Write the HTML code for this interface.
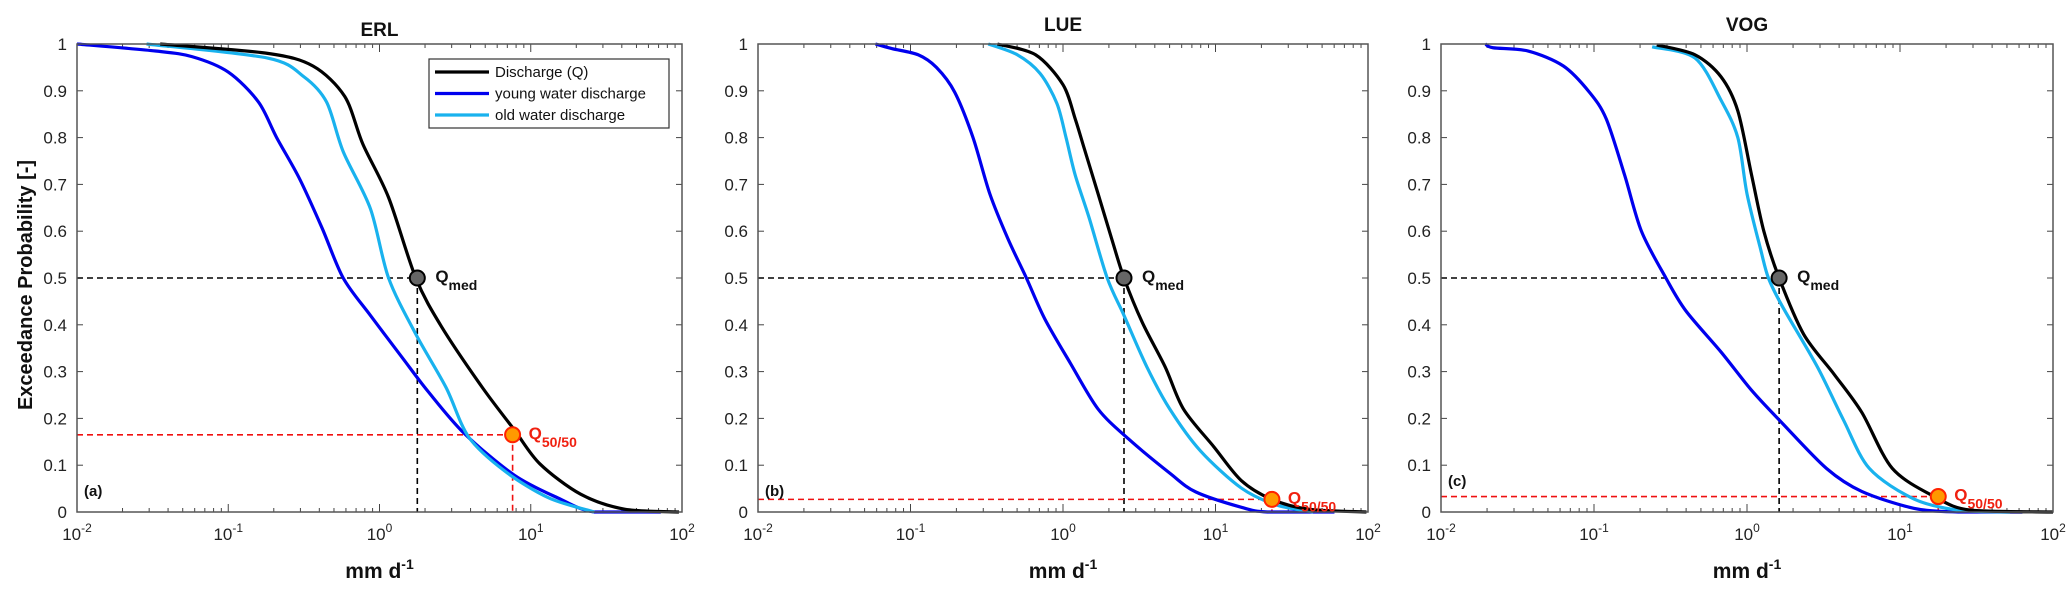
<!DOCTYPE html>
<html><head><meta charset="utf-8"><style>
body{margin:0;background:#fff;}
svg{display:block;font-family:"Liberation Sans",Arial,sans-serif;}
</style></head><body>
<svg id="fig" width="2067" height="597" viewBox="0 0 2067 597"></svg>
<script>
// data: [log10(x), exceedance probability]
const erlDischarge=[[-1.45,1],[-0.74,0.98],[-0.44,0.953],[-0.23,0.888],[-0.11,0.786],[0.06,0.672],[0.24,0.5],[0.41,0.396],[0.68,0.266],[0.89,0.176],[1.06,0.103],[1.33,0.038],[1.62,0.006],[1.98,0]];
const erlOld=[[-1.54,1],[-0.74,0.97],[-0.5,0.93],[-0.35,0.876],[-0.24,0.77],[-0.06,0.648],[0.06,0.5],[0.24,0.38],[0.44,0.266],[0.59,0.16],[0.83,0.087],[1.12,0.03],[1.42,0]];
const erlYoung=[[-2,1],[-1.48,0.985],[-1.24,0.973],[-1.0,0.94],[-0.8,0.876],[-0.68,0.8],[-0.53,0.713],[-0.38,0.607],[-0.24,0.5],[-0.06,0.42],[0.15,0.33],[0.32,0.258],[0.56,0.168],[0.89,0.079],[1.18,0.03],[1.42,0],[1.86,0]];
const lueDischarge=[[-0.43,1],[-0.18,0.977],[0,0.913],[0.08,0.84],[0.14,0.776],[0.23,0.68],[0.32,0.583],[0.4,0.5],[0.52,0.405],[0.67,0.31],[0.79,0.22],[0.99,0.139],[1.17,0.067],[1.37,0.027],[1.61,0.006],[1.99,0]];
const lueOld=[[-0.49,1],[-0.3,0.977],[-0.15,0.937],[-0.04,0.873],[0.02,0.8],[0.08,0.72],[0.17,0.63],[0.29,0.5],[0.4,0.42],[0.55,0.31],[0.7,0.22],[0.9,0.131],[1.17,0.051],[1.4,0.015],[1.64,0]];
const lueYoung=[[-1.23,1],[-1.12,0.99],[-0.95,0.977],[-0.83,0.95],[-0.71,0.897],[-0.59,0.8],[-0.48,0.68],[-0.36,0.583],[-0.24,0.5],[-0.12,0.413],[0.05,0.317],[0.23,0.22],[0.43,0.156],[0.7,0.083],[0.87,0.043],[1.17,0.01],[1.34,0],[1.78,0]];
const vogDischarge=[[-0.59,0.998],[-0.34,0.977],[-0.17,0.93],[-0.06,0.857],[0.03,0.72],[0.11,0.6],[0.21,0.5],[0.37,0.38],[0.57,0.294],[0.75,0.213],[0.95,0.093],[1.23,0.032],[1.46,0.004],[2,0]];
const vogOld=[[-0.62,0.994],[-0.34,0.97],[-0.17,0.88],[-0.06,0.8],[0,0.68],[0.09,0.56],[0.14,0.5],[0.23,0.44],[0.46,0.31],[0.63,0.197],[0.8,0.093],[1.09,0.028],[1.38,0.004],[1.72,0]];
const vogYoung=[[-1.71,1],[-1.66,0.992],[-1.43,0.985],[-1.2,0.953],[-1.03,0.897],[-0.92,0.84],[-0.8,0.72],[-0.69,0.6],[-0.53,0.5],[-0.4,0.43],[-0.17,0.342],[0.03,0.26],[0.23,0.19],[0.52,0.093],[0.75,0.044],[1.09,0.008],[1.38,0],[1.8,0]];
const panelTitles=["ERL","LUE","VOG"];
const panelLetters=["(a)","(b)","(c)"];
const qmedX=[0.25,0.4,0.21];
const q5050X=[0.88,1.37,1.25];
const q5050P=[0.165,0.027,0.033];
const yTicks=[0,0.1,0.2,0.3,0.4,0.5,0.6,0.7,0.8,0.9,1];
const yTickLabels=["0","0.1","0.2","0.3","0.4","0.5","0.6","0.7","0.8","0.9","1"];
const xDecades=[-2,-1,0,1,2];

const svg=document.getElementById('fig');
const NS='http://www.w3.org/2000/svg';
function mk(tag,attrs,parent){const e=document.createElementNS(NS,tag);for(const k in attrs)e.setAttribute(k,attrs[k]);(parent||svg).appendChild(e);return e;}
function smooth(pts){
  let d='M'+pts[0][0]+','+pts[0][1];
  for(let i=0;i<pts.length-1;i++){
    const p0=pts[Math.max(0,i-1)],p1=pts[i],p2=pts[i+1],p3=pts[Math.min(pts.length-1,i+2)];
    const t=0.15;
    let c1y=p1[1]+(p2[1]-p0[1])*t, c2y=p2[1]-(p3[1]-p1[1])*t;
    const lo=Math.min(p1[1],p2[1]),hi=Math.max(p1[1],p2[1]);
    c1y=Math.min(hi,Math.max(lo,c1y)); c2y=Math.min(hi,Math.max(lo,c2y));
    const c1x=p1[0]+(p2[0]-p0[0])*t, c2x=p2[0]-(p3[0]-p1[0])*t;
    d+=' C'+c1x+','+c1y+' '+c2x+','+c2y+' '+p2[0]+','+p2[1];
  }
  return d;
}
const panels=[{L:77,R:682,data:[erlYoung,erlOld,erlDischarge],ty:30},{L:758,R:1368,data:[lueYoung,lueOld,lueDischarge],ty:25},{L:1441,R:2053,data:[vogYoung,vogOld,vogDischarge],ty:25}];
const T=44,B=512;
const colors=["#0000ee","#19b2ee","#000000"];
const names=["young-water-line","old-water-line","discharge-line"];
panels.forEach((p,i)=>{
  const g=mk('g',{});
  
  
  const sx=v=>p.L+(v+2)/4*(p.R-p.L);
  const sy=v=>B-v*(B-T);
  yTicks.forEach((t,k)=>{
    mk('line',{x1:p.L,x2:p.L+6,y1:sy(t),y2:sy(t),stroke:'#444','stroke-width':1},g);
    mk('line',{x1:p.R-6,x2:p.R,y1:sy(t),y2:sy(t),stroke:'#444','stroke-width':1},g);
    const tl=mk('text',{x:p.L-10,y:sy(t)+6,'text-anchor':'end','font-size':17,fill:'#222'},g);
    tl.textContent=yTickLabels[k];
    
    
  });
  xDecades.forEach(d=>{
    const x=sx(d);
    mk('line',{x1:x,x2:x,y1:B,y2:B-8,stroke:'#444'},g);
    mk('line',{x1:x,x2:x,y1:T,y2:T+8,stroke:'#444'},g);
    if(d<2){for(let m=2;m<10;m++){const xm=sx(d+Math.log10(m));
      mk('line',{x1:xm,x2:xm,y1:B,y2:B-4,stroke:'#444'},g);
      mk('line',{x1:xm,x2:xm,y1:T,y2:T+4,stroke:'#444'},g);}}
    const tx=mk('text',{x:x,y:540,'text-anchor':'middle','font-size':17,fill:'#222'},g);
    tx.innerHTML='10<tspan dy="-8" font-size="12">'+d+'</tspan>';
    
    
  });
  const qx=sx(qmedX[i]), rx=sx(q5050X[i]), ry=sy(q5050P[i]);
  mk('line',{x1:p.L,x2:qx,y1:sy(0.5),y2:sy(0.5),stroke:'#000','stroke-width':1.6,'stroke-dasharray':'6,4'},g);
  mk('line',{x1:qx,x2:qx,y1:sy(0.5),y2:B,stroke:'#000','stroke-width':1.6,'stroke-dasharray':'6,4'},g);
  mk('line',{x1:p.L,x2:rx,y1:ry,y2:ry,stroke:'#f01010','stroke-width':1.6,'stroke-dasharray':'6,4'},g);
  mk('line',{x1:rx,x2:rx,y1:ry,y2:B,stroke:'#f01010','stroke-width':1.6,'stroke-dasharray':'6,4'},g);
  p.data.forEach((arr,k)=>{
    const pts=arr.map(q=>[sx(q[0]),sy(q[1])]);
    const pl=mk('path',{d:smooth(pts),fill:'none',stroke:colors[k],'stroke-width':3.2,'stroke-linejoin':'round'},g);
    
    
  });
  mk('rect',{x:p.L,y:T,width:p.R-p.L,height:B-T,fill:'none',stroke:'#555','stroke-width':1.5},g);
  const m1=mk('circle',{cx:qx,cy:sy(0.5),r:7.5,fill:'#666',stroke:'#000','stroke-width':2},g);
  
  
  const m2=mk('circle',{cx:rx,cy:ry,r:7.5,fill:'#ff9900',stroke:'#ff2200','stroke-width':2},g);
  
  
  const l1=mk('text',{x:qx+18,y:sy(0.5)+4,'font-size':17,'font-weight':'bold',fill:'#111'},g);
  l1.innerHTML='Q<tspan dy="8" font-size="14">med</tspan>';
  
  
  const l2=mk('text',{x:rx+16,y:ry+4,'font-size':17,'font-weight':'bold',fill:'#f02010'},g);
  l2.innerHTML='Q<tspan dy="8" font-size="14">50/50</tspan>';
  
  
  const tt=mk('text',{x:(p.L+p.R)/2,y:p.ty+6,'text-anchor':'middle','font-size':19,'font-weight':'bold',fill:'#111'},g);
  tt.textContent=panelTitles[i];
  
  
  const lt=mk('text',{x:p.L+7,y:i==2?486:496,'font-size':15,'font-weight':'bold',fill:'#111'},g);
  lt.textContent=panelLetters[i];
  
  
  const xl=mk('text',{x:(p.L+p.R)/2,y:578,'text-anchor':'middle','font-size':21,'font-weight':'bold',fill:'#111'},g);
  xl.innerHTML='mm d<tspan dy="-9" font-size="14">-1</tspan>';
  
  
});
const yt=mk('text',{x:0,y:0,transform:'translate(32,285) rotate(-90)','text-anchor':'middle','font-size':20,'font-weight':'bold',fill:'#111'});
yt.textContent='Exceedance Probability [-]';


const lg=mk('g',{});


mk('rect',{x:429,y:59,width:240,height:69,fill:'#fff',stroke:'#333','stroke-width':1.2},lg);
const legNames=["Discharge (Q)","young water discharge","old water discharge"];
const legColors=["#000000","#0000ee","#19b2ee"];
legNames.forEach((n,k)=>{
  const y=72+k*21.5;
  mk('line',{x1:435,x2:489,y1:y,y2:y,stroke:legColors[k],'stroke-width':3.2},lg);
  const t=mk('text',{x:495,y:y+5,'font-size':15,fill:'#111'},lg);
  t.textContent=n;
  
  
});
</script>
</body></html>
